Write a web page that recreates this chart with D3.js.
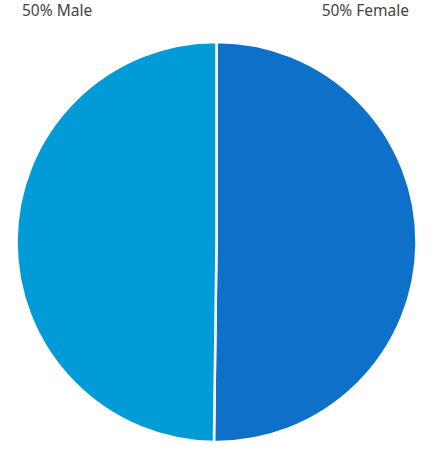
<!DOCTYPE html>
<html>
<head>
<meta charset="utf-8">
<script src="https://cdn.jsdelivr.net/npm/d3@7"></script>
<style>
  body { margin: 0; background: #fff; }
  svg { display: block; }
</style>
</head>
<body>
<div id="chart"></div>
<script>
// gender split
var categories = ["Female", "Male"];
var shares = [50.2, 49.8];
var labels = ["50% Female", "50% Male"];
var colors = ["#0e70c8", "#019cd8"];

var width = 436, height = 458;
var cx = 216.5, cy = 242, radius = 200;

var svg = d3.select("#chart").append("svg")
    .attr("width", width)
    .attr("height", height);

var pie = d3.pie().sort(null).value(function(d) { return d; });
var arc = d3.arc().innerRadius(0).outerRadius(radius);
var color = d3.scaleOrdinal().domain(categories).range(colors);

var g = svg.append("g").attr("transform", "translate(" + cx + "," + cy + ")");

g.selectAll("path")
    .data(pie(shares))
    .enter()
    .append("path")
    .attr("d", arc)
    .attr("fill", function(d, i) { return color(categories[i]); })
    .attr("stroke", "#fff")
    .attr("stroke-width", 2.5);

// labels sit above the pie, one per side
var labelPos = [
    { x: 409, anchor: "end" },
    { x: 22, anchor: "start" }
];

svg.selectAll("text.lbl")
    .data(labels)
    .enter()
    .append("text")
    .attr("class", "lbl")
    .attr("x", function(d, i) { return labelPos[i].x; })
    .attr("y", 16)
    .attr("text-anchor", function(d, i) { return labelPos[i].anchor; })
    .attr("font-family", "Noto Sans, Open Sans, sans-serif")
    .attr("font-size", 15.5)
    .attr("fill", "#444")
    .text(function(d) { return d; });
</script>
</body>
</html>
